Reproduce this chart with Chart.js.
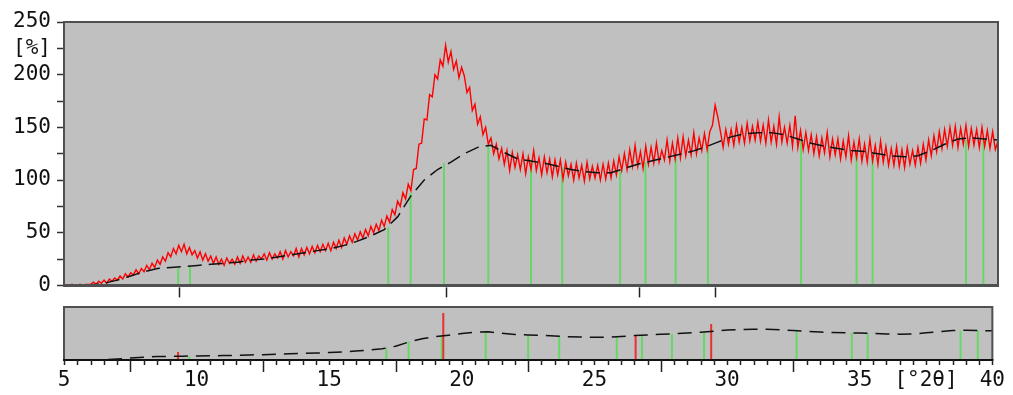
<!DOCTYPE html>
<html>
<head>
<meta charset="utf-8">
<script src="https://cdn.jsdelivr.net/npm/chart.js@4.4.0/dist/chart.umd.min.js"></script>
<style>
  html, body { margin: 0; padding: 0; background: #fff; }
  #wrap { position: relative; width: 1013px; height: 395px; }
  #topChart { position: absolute; left: 0; top: 0; }
  #botChart { position: absolute; left: 0; top: 304px; }
</style>
</head>
<body>
<div id="wrap">
  <canvas id="topChart" width="1013" height="304"></canvas>
  <canvas id="botChart" width="1013" height="91"></canvas>
</div>
<script>
// -----------------------------
// Data
// -----------------------------

// measured intensity [%], scan 5..40 °2θ, step 0.1
const scanStart = 5;
const scanStep = 0.1;
const intensity = [
  0, 0, 0, 1, 0, 0, 1, 0, 1, 1,
  1, 3, 1, 4, 2, 5, 2, 6, 4, 7,
  5, 9, 6, 11, 8, 12, 10, 15, 11, 16,
  13, 19, 15, 21, 17, 24, 20, 27, 23, 31,
  27, 35, 30, 38, 32, 39, 30, 36, 29, 33,
  26, 32, 24, 30, 23, 28, 21, 27, 20, 25,
  19, 26, 21, 25, 20, 27, 21, 28, 22, 27,
  22, 29, 23, 28, 25, 30, 24, 31, 25, 30,
  26, 32, 25, 33, 27, 32, 28, 35, 27, 35,
  29, 36, 30, 37, 31, 38, 32, 39, 33, 40,
  33, 41, 35, 43, 36, 45, 39, 47, 41, 49,
  43, 51, 45, 53, 47, 56, 50, 58, 52, 62,
  56, 66, 60, 72, 67, 80, 75, 88, 82, 96,
  90, 110, 111, 134, 135, 158, 157, 181, 179, 200,
  196, 214, 208, 228, 212, 222, 205, 213, 197, 207,
  199, 183, 188, 166, 172, 153, 160, 143, 150, 134,
  140, 125, 134, 120, 130, 115, 128, 109, 126, 112,
  124, 110, 125, 106, 122, 110, 128, 109, 121, 105,
  122, 107, 120, 103, 119, 105, 119, 101, 117, 104,
  115, 100, 116, 102, 114, 99, 117, 101, 113, 102,
  114, 100, 115, 101, 116, 102, 118, 105, 122, 109,
  125, 110, 129, 113, 133, 113, 127, 111, 132, 115,
  131, 116, 135, 117, 128, 119, 138, 118, 135, 120,
  140, 121, 141, 123, 138, 124, 145, 125, 140, 128,
  144, 129, 146, 152, 171, 160, 146, 131, 148, 134,
  148, 133, 152, 136, 150, 135, 154, 137, 151, 138,
  155, 137, 152, 135, 157, 136, 151, 134, 160, 136,
  150, 135, 152, 132, 161, 131, 147, 129, 145, 128,
  143, 125, 141, 123, 140, 126, 145, 122, 139, 124,
  139, 120, 137, 122, 142, 119, 136, 121, 139, 118,
  134, 117, 139, 118, 133, 115, 137, 117, 132, 114,
  130, 114, 132, 113, 129, 112, 131, 115, 128, 114,
  131, 116, 134, 119, 138, 123, 142, 127, 146, 130,
  148, 132, 150, 133, 151, 131, 149, 134, 152, 132,
  149, 133, 148, 131, 150, 132, 147, 130, 146, 129, 137
];

// fitted background (dashed black), step 0.5
const bgStep = 0.5;
const background = [
  0, 0, 0.5, 2, 5, 9, 13, 16, 17, 18,
  19, 20, 21, 22, 24, 25, 27, 29, 31, 33,
  35, 38, 42, 47, 53, 65, 85, 100, 110, 117,
  125, 131, 133, 126, 120, 118, 116, 113, 110, 108,
  107, 107, 111, 115, 118, 121, 124, 127, 131, 136,
  141, 144, 145, 145, 143, 139, 135, 132, 130, 128,
  127, 125, 123, 122, 123, 128, 134, 139, 140, 139, 138
];

// reference lines (green sticks)
const refPos = [9.28, 9.72, 17.15, 17.99, 19.24, 20.9, 22.5, 23.67, 25.84, 26.79, 27.92, 29.13, 32.62, 34.7, 35.3, 38.8, 39.45];
const refTop = [17, 18, 55, 88, 116, 133, 118, 112, 109, 117, 123, 131, 139, 128, 125, 138, 139];

// found peaks (red sticks + markers)
const peakPos = [9.3, 19.3, 26.55, 29.4];
const peakTop = [38, 222, 114, 170];

// tick labels
const yTickValues = [0, 50, 100, 150, 200, 225, 250];
const yTickText = ["0", "50", "100", "150", "200", "[%]", "250"];
const xTickValues = [5, 10, 15, 20, 25, 30, 35, 37.5, 40];
const xTickText = ["5", "10", "15", "20", "25", "30", "35", "[°2θ]", "40"];

// -----------------------------
// Helpers
// -----------------------------
const FONT = { family: "'DejaVu Sans Mono', monospace", size: 21 };
const PANEL_BG = "#c0c0c0";

const intensityPts = intensity.map((v, i) => ({ x: scanStart + i * scanStep, y: v }));
const backgroundPts = background.map((v, i) => ({ x: scanStart + i * bgStep, y: v }));

// vertical sticks as one line dataset broken by null gaps
function sticks(pos, top) {
  const out = [];
  pos.forEach((p, i) => {
    out.push({ x: p, y: 0 }, { x: p, y: top[i] }, { x: p, y: null });
  });
  return out;
}

function pickLabel(values, texts, v) {
  const i = values.findIndex(t => Math.abs(t - v) < 1e-6);
  return i >= 0 ? texts[i] : "";
}

const panelBg = {
  id: "panelBg",
  beforeDraw(chart) {
    const a = chart.chartArea;
    const ctx = chart.ctx;
    ctx.save();
    ctx.fillStyle = PANEL_BG;
    ctx.fillRect(a.left, a.top, a.right - a.left, a.bottom - a.top);
    ctx.restore();
  }
};

const panelBorder = {
  id: "panelBorder",
  afterDraw(chart, args, opts) {
    const a = chart.chartArea;
    const ctx = chart.ctx;
    ctx.save();
    ctx.strokeStyle = "#505050";
    ctx.lineWidth = 2;
    ctx.beginPath();
    ctx.moveTo(a.left, a.bottom);
    ctx.lineTo(a.left, a.top);
    ctx.lineTo(a.right, a.top);
    ctx.lineTo(a.right, a.bottom);
    ctx.stroke();
    ctx.strokeStyle = opts.bottomColor || "#505050";
    ctx.lineWidth = opts.bottomWidth || 3;
    ctx.beginPath();
    ctx.moveTo(a.left - 1, a.bottom);
    ctx.lineTo(a.right + 1, a.bottom);
    ctx.stroke();
    ctx.restore();
  }
};

// little markers under the top panel at the found peaks
const peakMarks = {
  id: "peakMarks",
  afterDraw(chart) {
    const x = chart.scales.x;
    const ctx = chart.ctx;
    const y0 = chart.chartArea.bottom + 2;
    ctx.save();
    ctx.strokeStyle = "#222";
    ctx.lineWidth = 1.5;
    peakPos.forEach(p => {
      const px = Math.round(x.getPixelForValue(p)) + 0.5;
      ctx.beginPath();
      ctx.moveTo(px, y0);
      ctx.lineTo(px, y0 + 10);
      ctx.stroke();
    });
    ctx.restore();
  }
};

// minor / major tick marks on the bottom axis, from the scale's own ticks
const axisTicks = {
  id: "axisTicks",
  afterDraw(chart) {
    const x = chart.scales.x;
    const ctx = chart.ctx;
    const y0 = chart.chartArea.bottom;
    ctx.save();
    ctx.strokeStyle = "#222";
    ctx.lineWidth = 1.5;
    x.ticks.forEach(t => {
      const v = t.value;
      const labelled = pickLabel(xTickValues, xTickText, v) !== "";
      const major = Math.abs(v / 2.5 - Math.round(v / 2.5)) < 1e-6;
      const len = major && !labelled ? 12 : 5;
      const px = Math.round(x.getPixelForValue(v)) + 0.5;
      ctx.beginPath();
      ctx.moveTo(px, y0);
      ctx.lineTo(px, y0 + len);
      ctx.stroke();
    });
    ctx.restore();
  }
};

// -----------------------------
// Top panel
// -----------------------------
new Chart(document.getElementById("topChart"), {
  type: "line",
  data: {
    datasets: [
      { data: backgroundPts, borderColor: "#111", borderWidth: 1.5, borderDash: [14, 7], pointRadius: 0, order: 1 },
      { data: intensityPts, borderColor: "#ff0000", borderWidth: 1.4, pointRadius: 0, order: 2 },
      { data: sticks(refPos, refTop), borderColor: "#66d866", borderWidth: 2, pointRadius: 0, spanGaps: false, order: 3 }
    ]
  },
  options: {
    responsive: false,
    animation: false,
    events: [],
    layout: { padding: { top: 22, right: 15, bottom: 14, left: 0 } },
    plugins: { legend: { display: false }, tooltip: { enabled: false }, panelBorder: { bottomWidth: 3 } },
    scales: {
      x: { type: "linear", min: 5, max: 40, display: false },
      y: {
        type: "linear", min: 0, max: 250,
        afterFit: s => { s.width = 64; },
        ticks: {
          stepSize: 25, autoSkip: false, padding: 6, color: "#111", font: FONT,
          callback: v => pickLabel(yTickValues, yTickText, v)
        },
        grid: { drawOnChartArea: false, tickLength: 7, tickColor: "#333", tickWidth: 1.5 },
        border: { display: false }
      }
    }
  },
  plugins: [panelBg, panelBorder, peakMarks]
});

// -----------------------------
// Bottom panel
// -----------------------------
new Chart(document.getElementById("botChart"), {
  type: "line",
  data: {
    datasets: [
      { data: backgroundPts, borderColor: "#111", borderWidth: 1.5, borderDash: [14, 8], pointRadius: 0, order: 1 },
      { data: sticks(peakPos, peakTop), borderColor: "#e83030", borderWidth: 2, pointRadius: 0, spanGaps: false, order: 2 },
      { data: sticks(refPos, refTop), borderColor: "#66d866", borderWidth: 2, pointRadius: 0, spanGaps: false, order: 3 }
    ]
  },
  options: {
    responsive: false,
    animation: false,
    events: [],
    layout: { padding: { top: 3, right: 15, bottom: 0, left: 0 } },
    plugins: { legend: { display: false }, tooltip: { enabled: false }, panelBorder: { bottomWidth: 2, bottomColor: "#111" } },
    scales: {
      x: {
        type: "linear", min: 5, max: 40,
        afterFit: s => { s.height = 35; },
        ticks: {
          stepSize: 0.5, autoSkip: false, maxRotation: 0, padding: 8, color: "#111", font: FONT,
          callback: v => pickLabel(xTickValues, xTickText, v)
        },
        grid: { display: true, drawOnChartArea: false, drawTicks: false },
        border: { display: false }
      },
      y: {
        type: "linear", min: 0, max: 250,
        afterFit: s => { s.width = 64; },
        ticks: { display: false },
        grid: { display: false },
        border: { display: false }
      }
    }
  },
  plugins: [panelBg, panelBorder, axisTicks]
});
</script>
</body>
</html>
